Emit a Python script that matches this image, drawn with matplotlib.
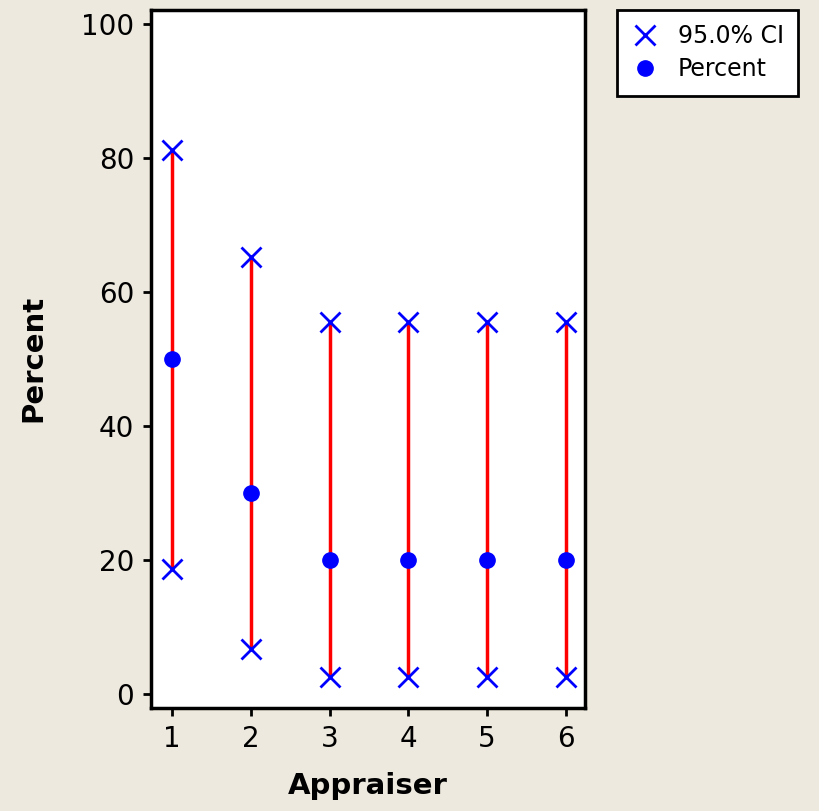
import matplotlib.pyplot as plt
from matplotlib.lines import Line2D

# appraiser agreement, percent with 95% CI
appraisers = [1, 2, 3, 4, 5, 6]
percent = [50.0, 30.0, 20.0, 20.0, 20.0, 20.0]
ci_lower = [18.7, 6.7, 2.5, 2.5, 2.5, 2.5]
ci_upper = [81.3, 65.2, 55.6, 55.6, 55.6, 55.6]

bg = '#eee9df'
fig = plt.figure(figsize=(8.2, 8.11), dpi=100, facecolor=bg)
ax = fig.add_axes([0.184, 0.127, 0.529, 0.861])
ax.set_facecolor('white')

ax.vlines(appraisers, ci_lower, ci_upper, color='red', linewidth=2.5, zorder=2)
ax.plot(appraisers, ci_upper, linestyle='none', marker='x', color='blue',
        markersize=14, markeredgewidth=2, zorder=3)
ax.plot(appraisers, ci_lower, linestyle='none', marker='x', color='blue',
        markersize=14, markeredgewidth=2, zorder=3)
ax.plot(appraisers, percent, linestyle='none', marker='o', color='blue',
        markersize=11, zorder=4)

ax.set_xlim(0.73, 6.24)
ax.set_ylim(-2.1, 102.2)
ax.set_xticks(appraisers)
ax.set_yticks([0, 20, 40, 60, 80, 100])
ax.tick_params(labelsize=20, length=6, width=2, direction='out', pad=6)
for s in ax.spines.values():
    s.set_linewidth(2.5)

ax.set_xlabel('Appraiser', fontsize=21, fontweight='bold', labelpad=14)
ax.set_ylabel('Percent', fontsize=21, fontweight='bold', labelpad=24)

handles = [
    Line2D([], [], linestyle='none', marker='x', color='blue', markersize=14, markeredgewidth=2),
    Line2D([], [], linestyle='none', marker='o', color='blue', markersize=11),
]
leg = fig.legend(handles, ['95.0% CI', 'Percent'], loc='upper left',
                 bbox_to_anchor=(0.752, 0.988), fontsize=17, frameon=True,
                 fancybox=False, borderaxespad=0, handlelength=1.2,
                 handletextpad=0.8, borderpad=0.6, labelspacing=0.4)
leg.get_frame().set_edgecolor('black')
leg.get_frame().set_linewidth(2)
leg.get_frame().set_facecolor('white')
leg.get_frame().set_alpha(1)

fig.savefig('out.png', dpi=100, facecolor=bg)
